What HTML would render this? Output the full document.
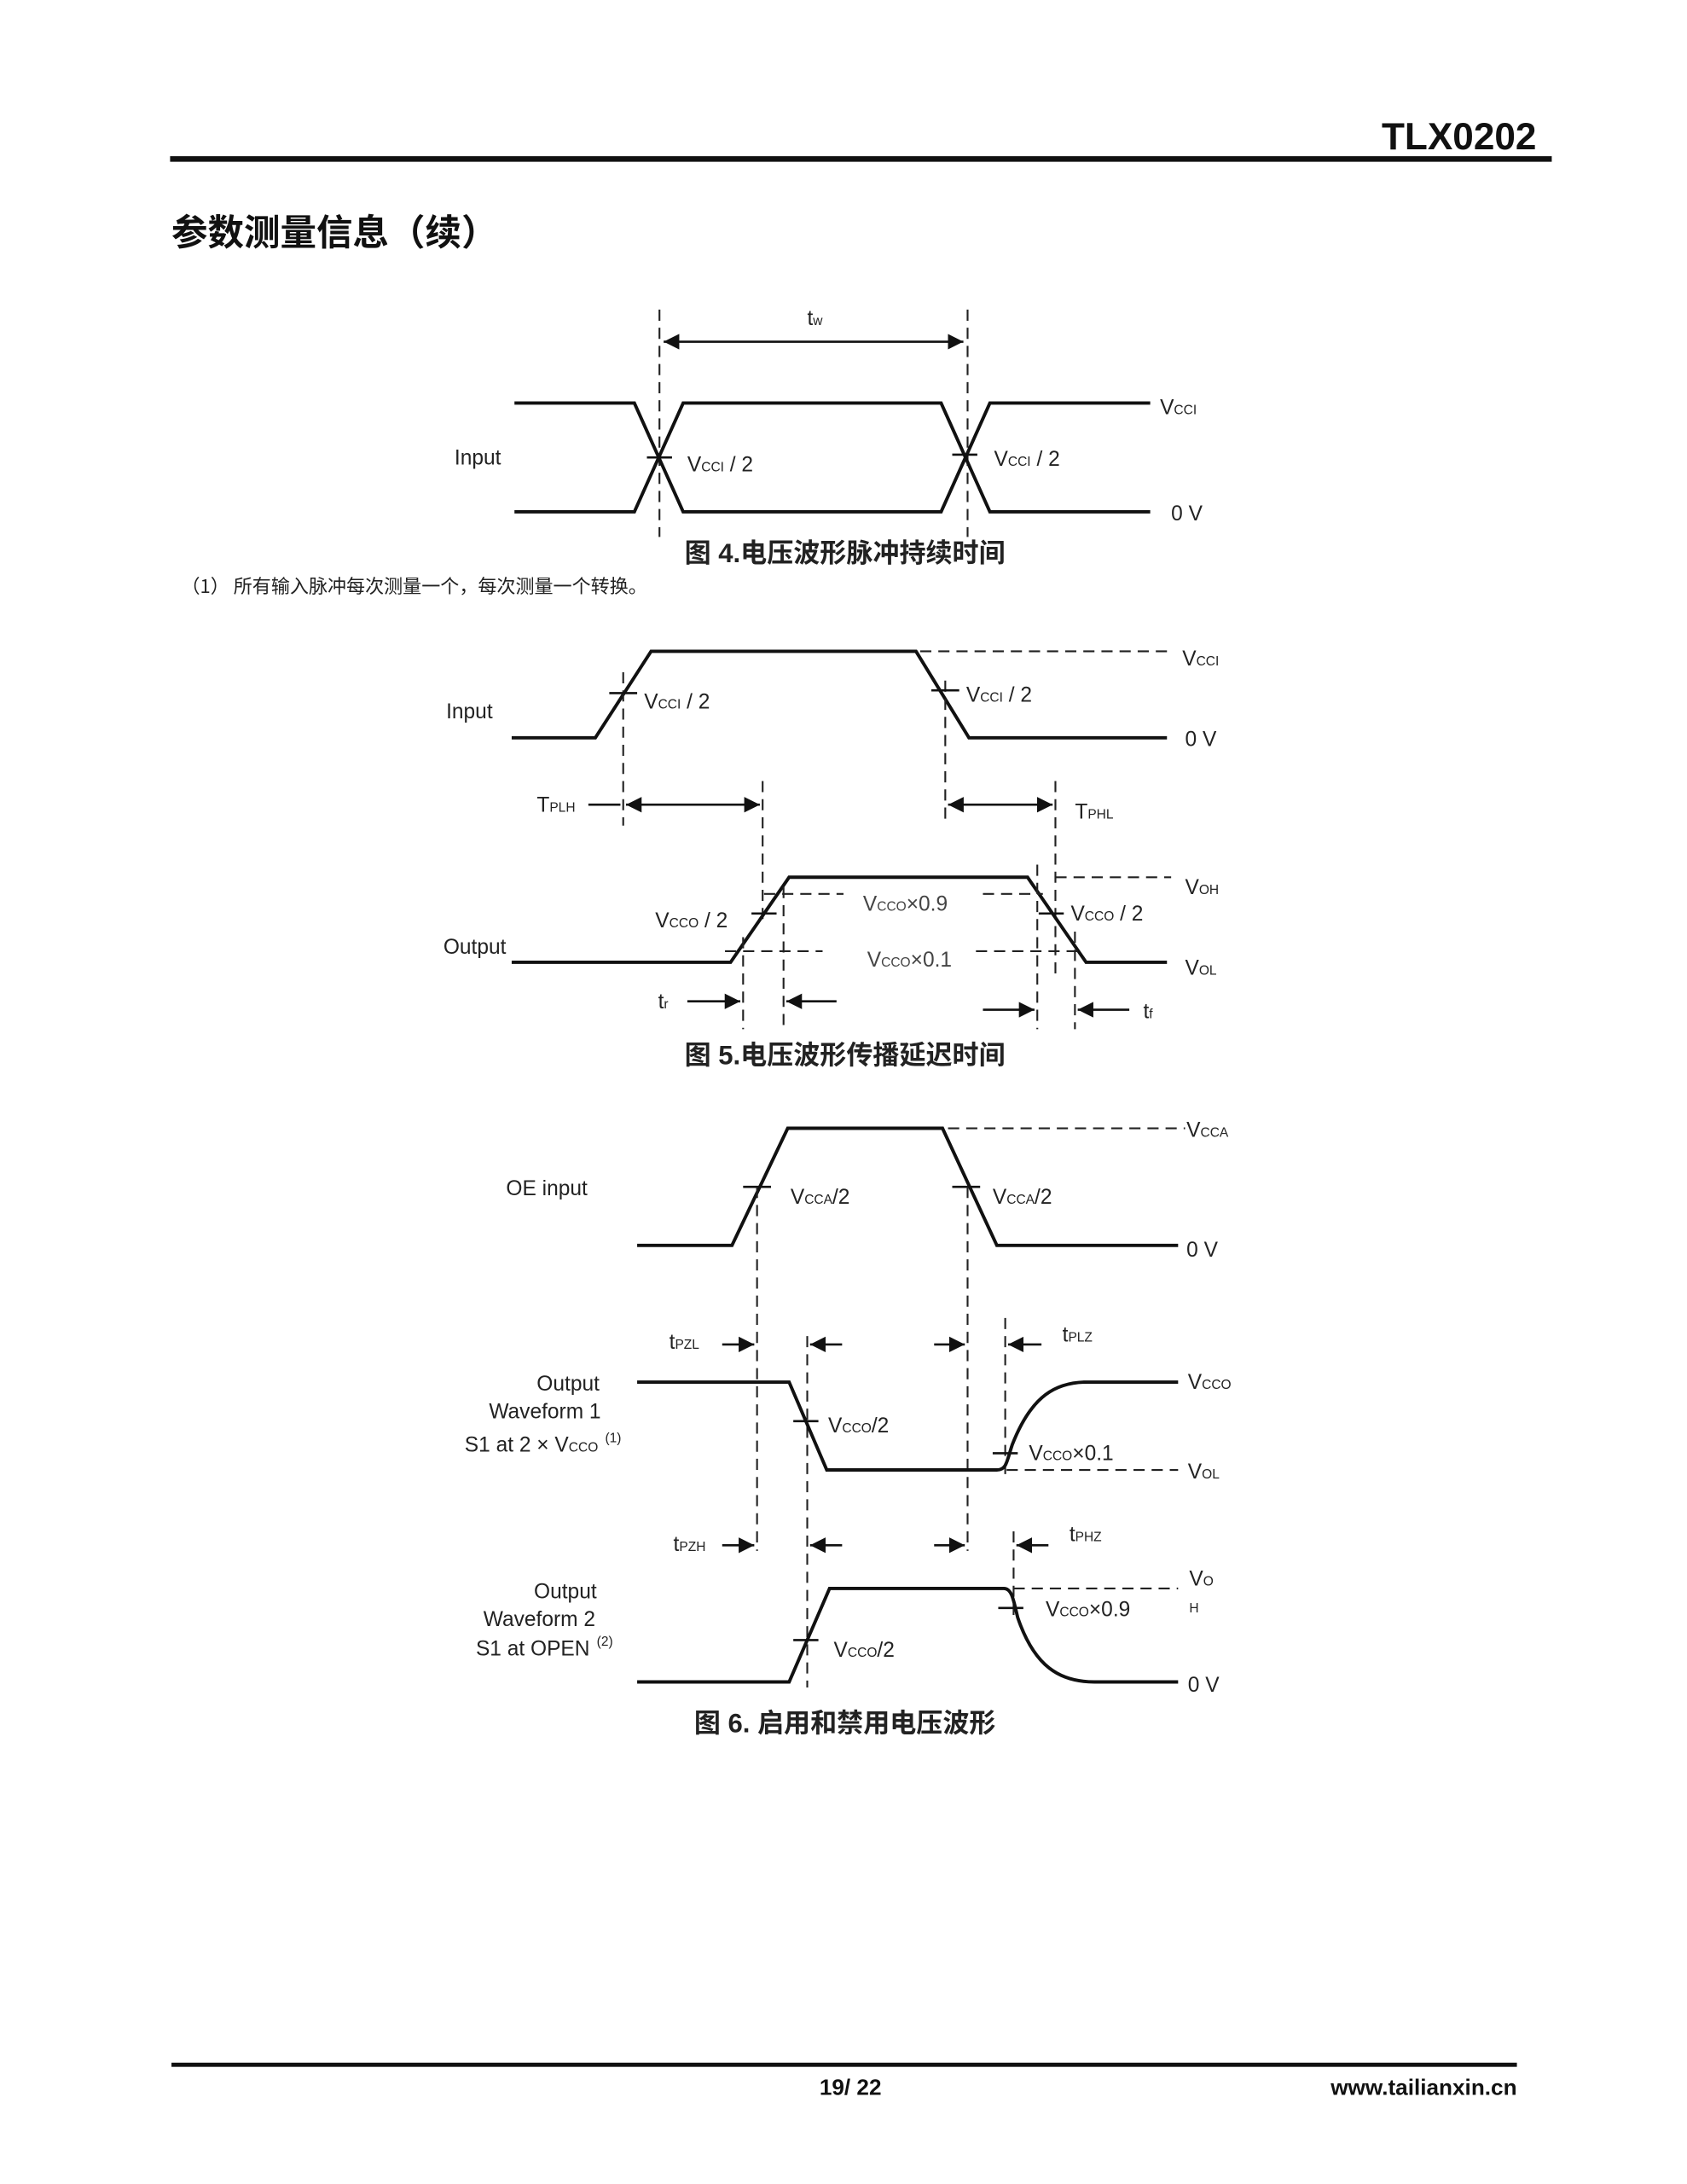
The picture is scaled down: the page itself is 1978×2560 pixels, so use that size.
<!DOCTYPE html>
<html><head><meta charset="utf-8"><style>
html,body{margin:0;padding:0;background:#fff}
svg{display:block}
text{font-family:"Liberation Sans","Noto Sans CJK SC",sans-serif;fill:#222}
.l{font-size:15px}
.s{font-size:9.5px}
.w{fill:none;stroke:#111;stroke-width:2.4}
.d{fill:none;stroke:#222;stroke-width:1.3;stroke-dasharray:8 5}
.t{fill:none;stroke:#111;stroke-width:1.6}
.cap{font-size:19px;font-weight:bold;font-family:"Liberation Sans","Noto Sans CJK SC",sans-serif}
</style></head><body>
<svg width="1978" height="2560" viewBox="0 0 1210 1566" preserveAspectRatio="none" xmlns="http://www.w3.org/2000/svg">
<defs>
<marker id="a" viewBox="0 0 10 10" refX="10" refY="5" markerWidth="7" markerHeight="7" orient="auto-start-reverse"><path d="M0,0L10,5L0,10z" fill="#111"/></marker>
</defs>
<!-- header -->
<text x="1102" y="107" text-anchor="end" style="font-size:27px;font-weight:bold;fill:#111">TLX0202</text>
<rect x="122" y="112" width="991" height="4" fill="#111"/>
<text x="123" y="176" style="font-size:26px;font-weight:bold;fill:#111;font-family:'Noto Sans CJK SC',sans-serif">参数测量信息（续）</text>

<!-- Fig 4 -->
<line class="d" x1="473" y1="222" x2="473" y2="385"/>
<line class="d" x1="694" y1="222" x2="694" y2="385"/>
<line class="t" x1="476" y1="245" x2="691" y2="245" marker-start="url(#a)" marker-end="url(#a)"/>
<text x="579" y="233" class="l">t<tspan class="s">w</tspan></text>
<polyline class="w" points="369,289 455,289 490,367 675,367 710,289 825,289"/>
<polyline class="w" points="369,367 455,367 490,289 675,289 710,367 825,367"/>
<line class="t" x1="464" y1="328" x2="482" y2="328"/>
<line class="t" x1="683" y1="326" x2="701" y2="326"/>
<text x="326" y="333" class="l">Input</text>
<text x="493" y="338" class="l">V<tspan class="s">CCI</tspan> / 2</text>
<text x="713" y="334" class="l">V<tspan class="s">CCI</tspan> / 2</text>
<text x="832" y="297" class="l">V<tspan class="s">CCI</tspan></text>
<text x="840" y="373" class="l">0 V</text>
<text x="606" y="403" text-anchor="middle" class="cap">图 4.电压波形脉冲持续时间</text>
<text x="130" y="425" style="font-size:13.5px;font-family:'Noto Sans CJK SC',sans-serif">（1） 所有输入脉冲每次测量一个，每次测量一个转换。</text>

<!-- Fig 5 -->
<polyline class="w" points="367,529 427,529 467,467 657,467 695,529 837,529"/>
<line class="d" x1="660" y1="467" x2="837" y2="467"/>
<text x="848" y="477" class="l">V<tspan class="s">CCI</tspan></text>
<text x="850" y="535" class="l">0 V</text>
<text x="320" y="515" class="l">Input</text>
<line class="d" x1="447" y1="482" x2="447" y2="592"/>
<line class="d" x1="678" y1="488" x2="678" y2="590"/>
<line class="t" x1="437" y1="497" x2="457" y2="497"/>
<line class="t" x1="668" y1="495" x2="688" y2="495"/>
<text x="462" y="508" class="l">V<tspan class="s">CCI</tspan> / 2</text>
<text x="693" y="503" class="l">V<tspan class="s">CCI</tspan> / 2</text>
<text x="385" y="582" class="l">T<tspan class="s">PLH</tspan></text>
<line class="t" x1="422" y1="577" x2="445" y2="577"/>
<line class="t" x1="449" y1="577" x2="545" y2="577" marker-start="url(#a)" marker-end="url(#a)"/>
<line class="t" x1="680" y1="577" x2="755" y2="577" marker-start="url(#a)" marker-end="url(#a)"/>
<text x="771" y="587" class="l">T<tspan class="s">PHL</tspan></text>
<line class="d" x1="547" y1="560" x2="547" y2="660"/>
<line class="d" x1="757" y1="560" x2="757" y2="700"/>
<polyline class="w" points="367,690 524,690 566,629 737,629 779,690 837,690"/>
<line class="d" x1="757" y1="629" x2="840" y2="629"/>
<text x="850" y="641" class="l">V<tspan class="s">OH</tspan></text>
<text x="850" y="699" class="l">V<tspan class="s">OL</tspan></text>
<text x="318" y="684" class="l">Output</text>
<line class="d" x1="548" y1="641" x2="605" y2="641"/>
<line class="d" x1="705" y1="641" x2="748" y2="641"/>
<line class="d" x1="520" y1="682" x2="590" y2="682"/>
<line class="d" x1="700" y1="682" x2="775" y2="682"/>
<text x="619" y="653" class="l" style="fill:#444">V<tspan class="s">CCO</tspan>×0.9</text>
<text x="622" y="693" class="l" style="fill:#444">V<tspan class="s">CCO</tspan>×0.1</text>
<text x="470" y="665" class="l">V<tspan class="s">CCO</tspan> / 2</text>
<text x="768" y="660" class="l">V<tspan class="s">CCO</tspan> / 2</text>
<line class="t" x1="539" y1="655" x2="557" y2="655"/>
<line class="t" x1="745" y1="655" x2="763" y2="655"/>
<line class="d" x1="533" y1="672" x2="533" y2="738"/>
<line class="d" x1="562" y1="636" x2="562" y2="738"/>
<line class="d" x1="744" y1="620" x2="744" y2="738"/>
<line class="d" x1="771" y1="668" x2="771" y2="738"/>
<text x="472" y="723" class="l">t<tspan class="s">r</tspan></text>
<line class="t" x1="493" y1="718" x2="531" y2="718" marker-end="url(#a)"/>
<line class="t" x1="600" y1="718" x2="564" y2="718" marker-end="url(#a)"/>
<line class="t" x1="705" y1="724" x2="742" y2="724" marker-end="url(#a)"/>
<line class="t" x1="810" y1="724" x2="773" y2="724" marker-end="url(#a)"/>
<text x="820" y="730" class="l">t<tspan class="s">f</tspan></text>
<text x="606" y="763" text-anchor="middle" class="cap">图 5.电压波形传播延迟时间</text>

<!-- Fig 6 -->
<polyline class="w" points="457,893 525,893 565,809 676,809 715,893 845,893"/>
<line class="d" x1="680" y1="809" x2="850" y2="809"/>
<text x="851" y="815" class="l">V<tspan class="s">CCA</tspan></text>
<text x="851" y="901" class="l">0 V</text>
<text x="363" y="857" class="l">OE input</text>
<line class="t" x1="533" y1="851" x2="553" y2="851"/>
<line class="t" x1="683" y1="851" x2="703" y2="851"/>
<text x="567" y="863" class="l">V<tspan class="s">CCA</tspan>/2</text>
<text x="712" y="863" class="l">V<tspan class="s">CCA</tspan>/2</text>
<line class="d" x1="543" y1="851" x2="543" y2="1112"/>
<line class="d" x1="579" y1="958" x2="579" y2="1210"/>
<line class="d" x1="694" y1="851" x2="694" y2="1112"/>
<line class="d" x1="721" y1="945" x2="721" y2="1060"/>
<line class="d" x1="727" y1="1098" x2="727" y2="1160"/>
<text x="480" y="967" class="l">t<tspan class="s">PZL</tspan></text>
<line class="t" x1="518" y1="964" x2="541" y2="964" marker-end="url(#a)"/>
<line class="t" x1="604" y1="964" x2="581" y2="964" marker-end="url(#a)"/>
<line class="t" x1="670" y1="964" x2="692" y2="964" marker-end="url(#a)"/>
<line class="t" x1="747" y1="964" x2="723" y2="964" marker-end="url(#a)"/>
<text x="762" y="962" class="l">t<tspan class="s">PLZ</tspan></text>
<path class="w" d="M457,991 L566,991 L593,1054 L715,1054 C722,1054 722,1048 726,1036 C740,1000 758,991 780,991 L845,991"/>
<line class="d" x1="722" y1="1054" x2="845" y2="1054"/>
<text x="852" y="996" class="l">V<tspan class="s">CCO</tspan></text>
<text x="852" y="1060" class="l">V<tspan class="s">OL</tspan></text>
<line class="t" x1="569" y1="1019" x2="587" y2="1019"/>
<line class="t" x1="712" y1="1042" x2="730" y2="1042"/>
<text x="594" y="1027" class="l">V<tspan class="s">CCO</tspan>/2</text>
<text x="738" y="1047" class="l">V<tspan class="s">CCO</tspan>×0.1</text>
<text x="430" y="997" text-anchor="end" class="l">Output</text>
<text x="431" y="1017" text-anchor="end" class="l">Waveform 1</text>
<text x="429" y="1041" text-anchor="end" class="l">S1 at 2 × V<tspan class="s">CCO</tspan></text>
<text x="434" y="1034" class="s">(1)</text>
<text x="483" y="1112" class="l">t<tspan class="s">PZH</tspan></text>
<line class="t" x1="518" y1="1108" x2="541" y2="1108" marker-end="url(#a)"/>
<line class="t" x1="604" y1="1108" x2="581" y2="1108" marker-end="url(#a)"/>
<line class="t" x1="670" y1="1108" x2="692" y2="1108" marker-end="url(#a)"/>
<line class="t" x1="752" y1="1108" x2="729" y2="1108" marker-end="url(#a)"/>
<text x="767" y="1105" class="l">t<tspan class="s">PHZ</tspan></text>
<path class="w" d="M457,1206 L566,1206 L595,1139 L720,1139 C726,1139 727,1148 730,1160 C742,1195 760,1206 785,1206 L845,1206"/>
<line class="d" x1="727" y1="1139" x2="845" y2="1139"/>
<text x="853" y="1137" class="l">V<tspan class="s">O</tspan></text>
<text x="853" y="1156" class="s">H</text>
<line class="t" x1="716" y1="1153" x2="734" y2="1153"/>
<line class="t" x1="569" y1="1176" x2="587" y2="1176"/>
<text x="750" y="1159" class="l">V<tspan class="s">CCO</tspan>×0.9</text>
<text x="598" y="1188" class="l">V<tspan class="s">CCO</tspan>/2</text>
<text x="852" y="1213" class="l">0 V</text>
<text x="428" y="1146" text-anchor="end" class="l">Output</text>
<text x="427" y="1166" text-anchor="end" class="l">Waveform 2</text>
<text x="423" y="1187" text-anchor="end" class="l">S1 at OPEN</text>
<text x="428" y="1180" class="s">(2)</text>
<text x="606" y="1242" text-anchor="middle" class="cap">图 6. 启用和禁用电压波形</text>

<!-- footer -->
<rect x="123" y="1479" width="965" height="3" fill="#111"/>
<text x="610" y="1502" text-anchor="middle" style="font-size:16px;font-weight:bold;fill:#111">19/ 22</text>
<text x="1088" y="1502" text-anchor="end" style="font-size:16px;font-weight:bold;fill:#111">www.tailianxin.cn</text>
</svg>
</body></html>
